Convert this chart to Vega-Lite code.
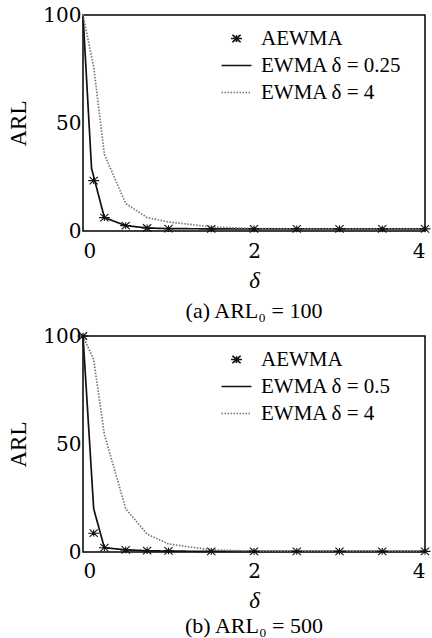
{
  "$schema": "https://vega.github.io/schema/vega-lite/v6.json",
  "padding": {"top": 4, "left": 7, "right": 0, "bottom": 0},
  "background": "white",
  "datasets": {
    "arl": [
      {"panel": "a", "series": "AEWMA", "delta": 0.125, "arl": 23.3},
      {"panel": "a", "series": "AEWMA", "delta": 0.25, "arl": 6.2},
      {"panel": "a", "series": "AEWMA", "delta": 0.5, "arl": 2.5},
      {"panel": "a", "series": "AEWMA", "delta": 0.75, "arl": 1.4},
      {"panel": "a", "series": "AEWMA", "delta": 1, "arl": 1.1},
      {"panel": "a", "series": "AEWMA", "delta": 1.5, "arl": 1.0},
      {"panel": "a", "series": "AEWMA", "delta": 2, "arl": 1.0},
      {"panel": "a", "series": "AEWMA", "delta": 2.5, "arl": 1.0},
      {"panel": "a", "series": "AEWMA", "delta": 3, "arl": 1.0},
      {"panel": "a", "series": "AEWMA", "delta": 3.5, "arl": 1.0},
      {"panel": "a", "series": "AEWMA", "delta": 4, "arl": 1.0},
      {"panel": "a", "series": "EWMA δ = 0.25", "delta": 0, "arl": 100},
      {"panel": "a", "series": "EWMA δ = 0.25", "delta": 0.1, "arl": 29},
      {"panel": "a", "series": "EWMA δ = 0.25", "delta": 0.25, "arl": 6.2},
      {"panel": "a", "series": "EWMA δ = 0.25", "delta": 0.5, "arl": 2.5},
      {"panel": "a", "series": "EWMA δ = 0.25", "delta": 0.75, "arl": 1.4},
      {"panel": "a", "series": "EWMA δ = 0.25", "delta": 1, "arl": 1.1},
      {"panel": "a", "series": "EWMA δ = 0.25", "delta": 1.5, "arl": 1.0},
      {"panel": "a", "series": "EWMA δ = 0.25", "delta": 2, "arl": 1.0},
      {"panel": "a", "series": "EWMA δ = 0.25", "delta": 2.5, "arl": 1.0},
      {"panel": "a", "series": "EWMA δ = 0.25", "delta": 3, "arl": 1.0},
      {"panel": "a", "series": "EWMA δ = 0.25", "delta": 3.5, "arl": 1.0},
      {"panel": "a", "series": "EWMA δ = 0.25", "delta": 4, "arl": 1.0},
      {"panel": "a", "series": "EWMA δ = 4", "delta": 0, "arl": 100},
      {"panel": "a", "series": "EWMA δ = 4", "delta": 0.125, "arl": 76},
      {"panel": "a", "series": "EWMA δ = 4", "delta": 0.25, "arl": 35.5},
      {"panel": "a", "series": "EWMA δ = 4", "delta": 0.5, "arl": 12.7},
      {"panel": "a", "series": "EWMA δ = 4", "delta": 0.75, "arl": 6.2},
      {"panel": "a", "series": "EWMA δ = 4", "delta": 1, "arl": 4.2},
      {"panel": "a", "series": "EWMA δ = 4", "delta": 1.5, "arl": 1.9},
      {"panel": "a", "series": "EWMA δ = 4", "delta": 2, "arl": 1.1},
      {"panel": "a", "series": "EWMA δ = 4", "delta": 2.5, "arl": 1.0},
      {"panel": "a", "series": "EWMA δ = 4", "delta": 3, "arl": 1.0},
      {"panel": "a", "series": "EWMA δ = 4", "delta": 3.5, "arl": 1.0},
      {"panel": "a", "series": "EWMA δ = 4", "delta": 4, "arl": 1.0},
      {"panel": "b", "series": "AEWMA", "delta": 0, "arl": 100},
      {"panel": "b", "series": "AEWMA", "delta": 0.125, "arl": 8.7},
      {"panel": "b", "series": "AEWMA", "delta": 0.25, "arl": 2.0},
      {"panel": "b", "series": "AEWMA", "delta": 0.5, "arl": 1.0},
      {"panel": "b", "series": "AEWMA", "delta": 0.75, "arl": 0.6},
      {"panel": "b", "series": "AEWMA", "delta": 1, "arl": 0.5},
      {"panel": "b", "series": "AEWMA", "delta": 1.5, "arl": 0.3},
      {"panel": "b", "series": "AEWMA", "delta": 2, "arl": 0.3},
      {"panel": "b", "series": "AEWMA", "delta": 2.5, "arl": 0.3},
      {"panel": "b", "series": "AEWMA", "delta": 3, "arl": 0.3},
      {"panel": "b", "series": "AEWMA", "delta": 3.5, "arl": 0.3},
      {"panel": "b", "series": "AEWMA", "delta": 4, "arl": 0.3},
      {"panel": "b", "series": "EWMA δ = 0.5", "delta": 0, "arl": 100},
      {"panel": "b", "series": "EWMA δ = 0.5", "delta": 0.125, "arl": 20},
      {"panel": "b", "series": "EWMA δ = 0.5", "delta": 0.25, "arl": 2.0},
      {"panel": "b", "series": "EWMA δ = 0.5", "delta": 0.5, "arl": 1.0},
      {"panel": "b", "series": "EWMA δ = 0.5", "delta": 0.75, "arl": 0.6},
      {"panel": "b", "series": "EWMA δ = 0.5", "delta": 1, "arl": 0.4},
      {"panel": "b", "series": "EWMA δ = 0.5", "delta": 1.5, "arl": 0.3},
      {"panel": "b", "series": "EWMA δ = 0.5", "delta": 2, "arl": 0.3},
      {"panel": "b", "series": "EWMA δ = 0.5", "delta": 2.5, "arl": 0.3},
      {"panel": "b", "series": "EWMA δ = 0.5", "delta": 3, "arl": 0.3},
      {"panel": "b", "series": "EWMA δ = 0.5", "delta": 3.5, "arl": 0.3},
      {"panel": "b", "series": "EWMA δ = 0.5", "delta": 4, "arl": 0.3},
      {"panel": "b", "series": "EWMA δ = 4", "delta": 0, "arl": 100},
      {"panel": "b", "series": "EWMA δ = 4", "delta": 0.125, "arl": 89},
      {"panel": "b", "series": "EWMA δ = 4", "delta": 0.25, "arl": 54.4},
      {"panel": "b", "series": "EWMA δ = 4", "delta": 0.5, "arl": 20},
      {"panel": "b", "series": "EWMA δ = 4", "delta": 0.75, "arl": 8.3},
      {"panel": "b", "series": "EWMA δ = 4", "delta": 1, "arl": 3.7},
      {"panel": "b", "series": "EWMA δ = 4", "delta": 1.5, "arl": 1.0},
      {"panel": "b", "series": "EWMA δ = 4", "delta": 2, "arl": 0.4},
      {"panel": "b", "series": "EWMA δ = 4", "delta": 2.5, "arl": 0.3},
      {"panel": "b", "series": "EWMA δ = 4", "delta": 3, "arl": 0.3},
      {"panel": "b", "series": "EWMA δ = 4", "delta": 3.5, "arl": 0.3},
      {"panel": "b", "series": "EWMA δ = 4", "delta": 4, "arl": 0.3}
    ]
  },
  "config": {
    "view": {"stroke": "black", "strokeWidth": 1.5},
    "font": "Liberation Serif",
    "axis": {
      "grid": false, "domain": false, "ticks": false,
      "labelFont": "DejaVu Serif", "labelFontSize": 20, "labelColor": "black",
      "titleFont": "Liberation Serif", "titleFontSize": 23, "titleFontWeight": "normal", "titleColor": "black"
    },
    "legend": {
      "orient": "none", "legendX": 143, "legendY": 13,
      "title": null, "padding": 0,
      "labelFont": "Liberation Serif", "labelFontSize": 21, "labelColor": "black",
      "symbolSize": 225, "symbolStrokeWidth": 1.6, "symbolStrokeColor": "black",
      "rowPadding": 5, "labelOffset": 14, "labelLimit": 300
    },
    "title": {"font": "Liberation Serif", "fontSize": 22, "fontWeight": "normal", "color": "black"}
  },
  "resolve": {"scale": {"shape": "independent", "strokeDash": "independent", "color": "independent"}, "legend": {"shape": "independent", "strokeDash": "independent", "color": "independent"}},
  "spacing": 2,
  "vconcat": [
    {
      "width": 342, "height": 216,
      "title": {"text": "(a) ARL₀ = 100", "orient": "bottom", "anchor": "middle", "frame": "group", "offset": 9},
      "data": {"name": "arl"},
      "transform": [{"filter": "datum.panel === 'a'"}],
      "encoding": {
        "x": {"field": "delta", "type": "quantitative", "scale": {"domain": [0, 4], "nice": false}, "axis": {"values": [0, 2, 4], "title": "δ", "titleFontStyle": "italic", "labelPadding": 10, "titlePadding": 8}},
        "y": {"field": "arl", "type": "quantitative", "scale": {"domain": [0, 100], "nice": false}, "axis": {"values": [0, 50, 100], "title": "ARL", "labelPadding": 2, "titlePadding": 12}}
      },
      "layer": [
        {
          "transform": [{"filter": "datum.series !== 'AEWMA'"}],
          "mark": {"type": "line", "strokeWidth": 1.7},
          "encoding": {
            "strokeDash": {"field": "series", "type": "nominal", "scale": {"domain": ["AEWMA", "EWMA δ = 0.25", "EWMA δ = 4"], "range": [[1, 0], [1, 0], [1.5, 1.5]]}},
            "color": {"field": "series", "type": "nominal", "scale": {"domain": ["AEWMA", "EWMA δ = 0.25", "EWMA δ = 4"], "range": ["#111111", "#111111", "#777777"]}}
          }
        },
        {
          "transform": [{"filter": "datum.series === 'AEWMA'"}],
          "mark": {"type": "point", "filled": false, "size": 225, "strokeWidth": 1.1, "opacity": 1},
          "encoding": {
            "shape": {"field": "series", "type": "nominal", "scale": {"domain": ["AEWMA", "EWMA δ = 0.25", "EWMA δ = 4"], "range": ["M-0.73,0L0.73,0M-0.55,-0.5L0.55,0.5M-0.55,0.5L0.55,-0.5M0,-0.45L0,0.45", "M-2,0L2,0", "M-2,0L2,0"]}},
            "color": {"field": "series", "type": "nominal", "scale": {"domain": ["AEWMA", "EWMA δ = 0.25", "EWMA δ = 4"], "range": ["#111111", "#111111", "#777777"]}}
          }
        }
      ]
    },
    {
      "width": 342, "height": 216,
      "title": {"text": "(b) ARL₀ = 500", "orient": "bottom", "anchor": "middle", "frame": "group", "offset": 4},
      "data": {"name": "arl"},
      "transform": [{"filter": "datum.panel === 'b'"}],
      "encoding": {
        "x": {"field": "delta", "type": "quantitative", "scale": {"domain": [0, 4], "nice": false}, "axis": {"values": [0, 2, 4], "title": "δ", "titleFontStyle": "italic", "labelPadding": 9, "titlePadding": 8}},
        "y": {"field": "arl", "type": "quantitative", "scale": {"domain": [0, 100], "nice": false}, "axis": {"values": [0, 50, 100], "title": "ARL", "labelPadding": 2, "titlePadding": 12}}
      },
      "layer": [
        {
          "transform": [{"filter": "datum.series !== 'AEWMA'"}],
          "mark": {"type": "line", "strokeWidth": 1.7},
          "encoding": {
            "strokeDash": {"field": "series", "type": "nominal", "scale": {"domain": ["AEWMA", "EWMA δ = 0.5", "EWMA δ = 4"], "range": [[1, 0], [1, 0], [1.5, 1.5]]}},
            "color": {"field": "series", "type": "nominal", "scale": {"domain": ["AEWMA", "EWMA δ = 0.5", "EWMA δ = 4"], "range": ["#111111", "#111111", "#777777"]}}
          }
        },
        {
          "transform": [{"filter": "datum.series === 'AEWMA'"}],
          "mark": {"type": "point", "filled": false, "size": 225, "strokeWidth": 1.1, "opacity": 1},
          "encoding": {
            "shape": {"field": "series", "type": "nominal", "scale": {"domain": ["AEWMA", "EWMA δ = 0.5", "EWMA δ = 4"], "range": ["M-0.73,0L0.73,0M-0.55,-0.5L0.55,0.5M-0.55,0.5L0.55,-0.5M0,-0.45L0,0.45", "M-2,0L2,0", "M-2,0L2,0"]}},
            "color": {"field": "series", "type": "nominal", "scale": {"domain": ["AEWMA", "EWMA δ = 0.5", "EWMA δ = 4"], "range": ["#111111", "#111111", "#777777"]}}
          }
        }
      ]
    }
  ]
}
